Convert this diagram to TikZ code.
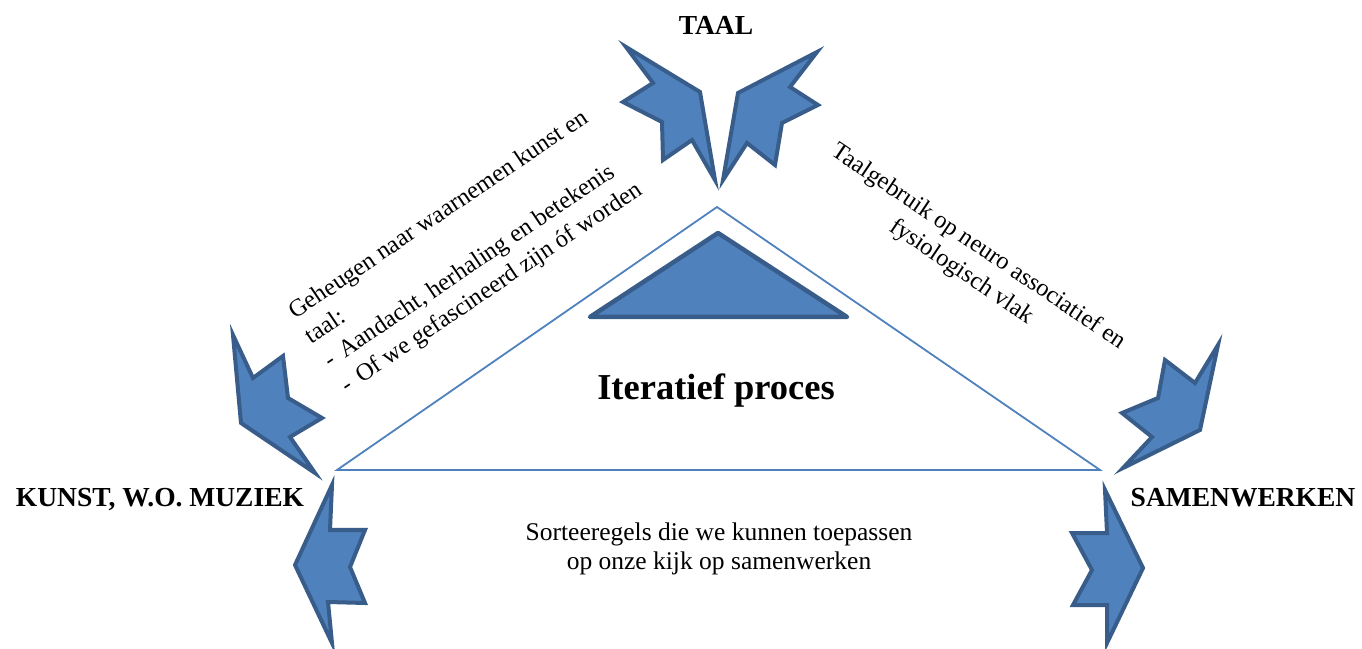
\documentclass[tikz,border=0pt]{standalone}
\usepackage{fontspec}
\setmainfont{Liberation Serif}
\definecolor{offblue}{HTML}{4F81BD}
\definecolor{offdark}{HTML}{385D8A}
\tikzset{
  shapearrow/.style={fill=offblue, draw=offdark, line width=4pt, line join=miter},
  bigtri/.style={draw=offblue, line width=1.8pt, line join=miter},
  smalltri/.style={fill=offblue, draw=offdark, line width=4.5pt, line join=round},
  lab/.style={font=\fontsize{27.5}{32}\selectfont\bfseries, inner sep=0pt},
  txt/.style={font=\fontsize{24.5}{29}\selectfont, inner sep=0pt},
  btxt/.style={font=\fontsize{25.5}{29}\selectfont, inner sep=0pt},
}
\begin{document}
\begin{tikzpicture}[x=1pt,y=1pt]
\useasboundingbox (0,0) rectangle (1362,648);
% big triangle
\draw[bigtri] (717,441) -- (337,178) -- (1100,178) -- cycle;
% inner triangle
\draw[smalltri] (718,415) -- (590,331) -- (847,331) -- cycle;
% TAAL arrows
\draw[shapearrow] (626,601) -- (700,556) -- (715,468) -- (692,508) -- (663,488) -- (662,526) -- (623,546) -- (653,565) -- cycle;
\draw[shapearrow] (817,596) -- (790,561) -- (818,543) -- (782,525) -- (775,483) -- (747,505) -- (723,468) -- (738,555) -- cycle;
% middle arrows
\draw[shapearrow] (233,313) -- (253,270) -- (283,292) -- (288,250) -- (322,230) -- (290,211) -- (315,175) -- (241,225) -- cycle;
\draw[shapearrow] (1218,303) -- (1195,265) -- (1165,288) -- (1158,250) -- (1122,235) -- (1152,211) -- (1123,180) -- (1200,218) -- cycle;
% bottom arrows
\draw[shapearrow] (332,163) -- (330,118) -- (365,118) -- (350,81) -- (365,45) -- (328,46) -- (332,5) -- (295,83) -- cycle;
\draw[shapearrow] (1105,158) -- (1143,80) -- (1107,5) -- (1107,43) -- (1073,43) -- (1092,78) -- (1072,115) -- (1107,115) -- cycle;
% labels
\node[lab, anchor=base] (taal) at (716,613) {TAAL};
\node[lab, anchor=base] (kunst) at (160,141) {KUNST, W.O. MUZIEK};
\node[lab, anchor=base] (samen) at (1243,141) {SAMENWERKEN};
\node[font=\fontsize{36.5}{40}\selectfont\bfseries, inner sep=0pt, anchor=base] (iter) at (716,248) {Iteratief proces};
\node[btxt, anchor=base] (sort1) at (719,108) {Sorteeregels die we kunnen toepassen};
\node[btxt, anchor=base] (sort2) at (719,79) {op onze kijk op samenwerken};
% left rotated text
\begin{scope}[shift={(295,328)}, rotate=34, transform shape]
\node[txt, anchor=base west] (l1) at (0,0) {Geheugen naar waarnemen kunst en};
\node[txt, anchor=base west] (l2) at (0,-30) {taal:};
\node[txt, anchor=base west] (d1) at (2,-60) {-};
\node[txt, anchor=base west] (l3) at (20,-60) {Aandacht, herhaling en betekenis};
\node[txt, anchor=base west] (d2) at (2,-90) {-};
\node[txt, anchor=base west] (l4) at (20,-90) {Of we gefascineerd zijn óf worden};
\end{scope}
% right rotated text
\node[txt, anchor=base, rotate=-34] (r1) at (975,396) {Taalgebruik op neuro associatief en};
\node[txt, anchor=base, rotate=-34] (r2) at (958,371) {fysiologisch vlak};
\end{tikzpicture}
\end{document}
